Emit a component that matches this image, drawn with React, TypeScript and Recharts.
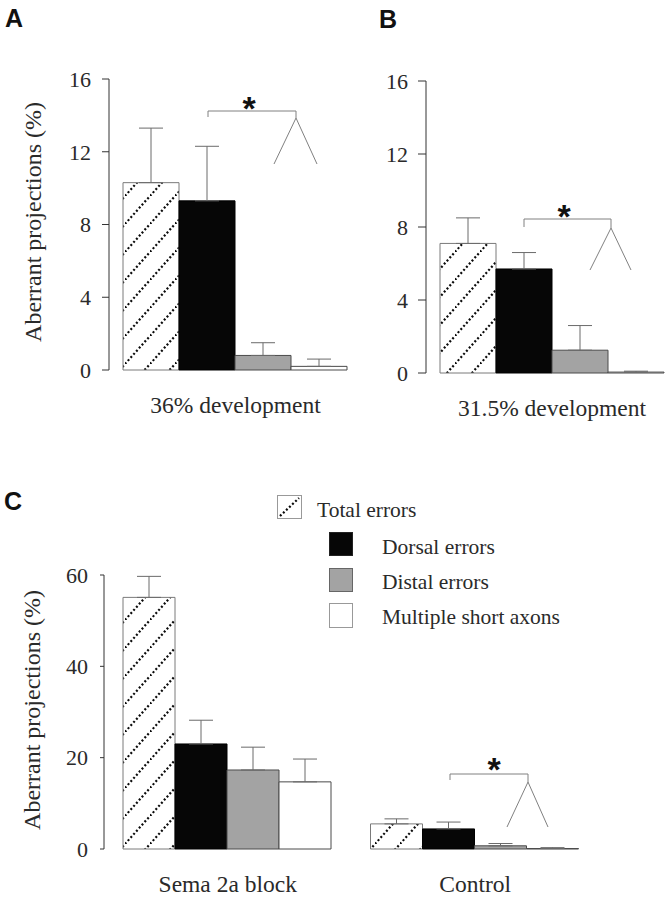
import React from 'react'
import { BarChart, Bar, XAxis, YAxis, ErrorBar } from 'recharts'

const SERIF = '"Liberation Serif", "Times New Roman", serif'
const SANS = '"Liberation Sans", Arial, sans-serif'

// legend / series
const seriesKeys = ['total', 'dorsal', 'distal', 'short']
const seriesNames = ['Total errors', 'Dorsal errors', 'Distal errors', 'Multiple short axons']
const seriesFills = ['url(#hatch)', '#060606', '#a3a3a3', '#ffffff']
const seriesStrokes = ['#7a7a7a', '#000000', '#4a4a4a', '#4a4a4a']

// panel A
const categoriesA = ['36% development']
const totalA = [10.3]
const totalErrA = [3.0]
const dorsalA = [9.3]
const dorsalErrA = [3.0]
const distalA = [0.8]
const distalErrA = [0.7]
const shortA = [0.2]
const shortErrA = [0.4]

// panel B
const categoriesB = ['31.5% development']
const totalB = [7.1]
const totalErrB = [1.4]
const dorsalB = [5.7]
const dorsalErrB = [0.9]
const distalB = [1.25]
const distalErrB = [1.35]
const shortB = [0.05]
const shortErrB = [0.05]

// panel C
const categoriesC = ['Sema 2a block', 'Control']
const totalC = [55.1, 5.5]
const totalErrC = [4.6, 1.1]
const dorsalC = [23.0, 4.4]
const dorsalErrC = [5.2, 1.5]
const distalC = [17.3, 0.7]
const distalErrC = [5.0, 0.5]
const shortC = [14.7, 0.1]
const shortErrC = [5.0, 0.2]

const ticksAB = [0, 4, 8, 12, 16]
const ticksC = [0, 20, 40, 60]

const buildRows = (
  cats: string[],
  total: number[], totalErr: number[],
  dorsal: number[], dorsalErr: number[],
  distal: number[], distalErr: number[],
  short: number[], shortErr: number[]
) =>
  cats.map((name, i) => ({
    name,
    total: total[i],
    totalErr: [0, totalErr[i]],
    dorsal: dorsal[i],
    dorsalErr: [0, dorsalErr[i]],
    distal: distal[i],
    distalErr: [0, distalErr[i]],
    short: short[i],
    shortErr: [0, shortErr[i]],
  }))

const dataA = buildRows(categoriesA, totalA, totalErrA, dorsalA, dorsalErrA, distalA, distalErrA, shortA, shortErrA)
const dataB = buildRows(categoriesB, totalB, totalErrB, dorsalB, dorsalErrB, distalB, distalErrB, shortB, shortErrB)
const dataC = buildRows(categoriesC, totalC, totalErrC, dorsalC, dorsalErrC, distalC, distalErrC, shortC, shortErrC)

interface PanelProps {
  data: Array<Record<string, unknown>>
  left: number
  top: number
  width: number
  height: number
  margin: { top: number; right: number; left: number; bottom: number }
  yWidth: number
  yMax: number
  ticks: number[]
  padLeft: number
  catGap: number
  tickFont: number
  tickSize: number
  tickMargin: number
  catFont: number
  catMargin: number
}

function Panel({
  data, left, top, width, height, margin, yWidth, yMax, ticks,
  padLeft, catGap, tickFont, tickSize, tickMargin, catFont, catMargin,
}: PanelProps) {
  return (
    <div style={{ position: 'absolute', left, top, width, height }}>
      <BarChart
        width={width}
        height={height}
        data={data}
        margin={margin}
        barGap={0}
        barCategoryGap={catGap}
      >
        <XAxis
          dataKey="name"
          axisLine={false}
          tickLine={false}
          tickSize={0}
          tickMargin={catMargin}
          height={40}
          interval={0}
          padding={{ left: padLeft, right: 0 }}
          tick={{ fontSize: catFont, fill: '#2a2a2a', fontFamily: SERIF }}
        />
        <YAxis
          type="number"
          width={yWidth}
          domain={[0, yMax]}
          ticks={ticks}
          interval={0}
          tickSize={tickSize}
          tickMargin={tickMargin}
          axisLine={{ stroke: '#333' }}
          tickLine={{ stroke: '#333' }}
          tick={{ fontSize: tickFont, fill: '#2a2a2a', fontFamily: SERIF }}
        />
        {seriesKeys.map((key, i) => (
          <Bar
            key={key}
            dataKey={key}
            name={seriesNames[i]}
            fill={seriesFills[i]}
            stroke={seriesStrokes[i]}
            strokeWidth={1}
            isAnimationActive={false}
          >
            <ErrorBar
              dataKey={key + 'Err'}
              width={12}
              stroke="#6a6a6a"
              strokeWidth={1}
              direction="y"
              isAnimationActive={false}
            />
          </Bar>
        ))}
      </BarChart>
    </div>
  )
}

export default function App() {
  const textStyle = { fontFamily: SERIF, fill: '#2a2a2a' }
  return (
    <div style={{ position: 'absolute', left: 0, top: 0, width: 666, height: 899, background: '#fff' }}>
      <Panel
        data={dataA}
        left={0}
        top={0}
        width={360}
        height={430}
        margin={{ top: 79, right: 12, left: 0, bottom: 20 }}
        yWidth={109}
        yMax={16}
        ticks={ticksAB}
        padLeft={14}
        catGap={0}
        tickFont={22}
        tickSize={7}
        tickMargin={11}
        catFont={23.5}
        catMargin={26}
      />
      <Panel
        data={dataB}
        left={330}
        top={0}
        width={336}
        height={430}
        margin={{ top: 81, right: 2, left: 0, bottom: 17 }}
        yWidth={96}
        yMax={16}
        ticks={ticksAB}
        padLeft={14}
        catGap={0}
        tickFont={22}
        tickSize={8}
        tickMargin={10}
        catFont={23.5}
        catMargin={26}
      />
      <Panel
        data={dataC}
        left={0}
        top={480}
        width={620}
        height={419}
        margin={{ top: 95, right: 21, left: 0, bottom: 10 }}
        yWidth={104}
        yMax={60}
        ticks={ticksC}
        padLeft={0}
        catGap={19}
        tickFont={22}
        tickSize={4}
        tickMargin={12}
        catFont={23.5}
        catMargin={26}
      />

      {/* overlay: pattern, titles, significance marks, legend */}
      <svg
        width={666}
        height={899}
        style={{ position: 'absolute', left: 0, top: 0, pointerEvents: 'none' }}
      >
        <defs>
          <pattern id="hatch" patternUnits="userSpaceOnUse" width={25} height={28}>
            <rect width={25} height={28} fill="#fff" />
            <line x1={0} y1={28} x2={25} y2={0} stroke="#0a0a0a" strokeWidth={2.2} strokeDasharray="2 2.2" />
          </pattern>
        </defs>

        <text x={5} y={27} style={{ fontFamily: SANS, fontWeight: 700, fontSize: 25, fill: '#111' }}>A</text>
        <text x={379} y={28} style={{ fontFamily: SANS, fontWeight: 700, fontSize: 25, fill: '#111' }}>B</text>
        <text x={4} y={510} style={{ fontFamily: SANS, fontWeight: 700, fontSize: 25, fill: '#111' }}>C</text>

        <text x={33} y={222} transform="rotate(-90 33 222)" textAnchor="middle" dominantBaseline="central" style={{ ...textStyle, fontSize: 24 }}>
          Aberrant projections (%)
        </text>
        <text x={32} y={710} transform="rotate(-90 32 710)" textAnchor="middle" dominantBaseline="central" style={{ ...textStyle, fontSize: 24 }}>
          Aberrant projections (%)
        </text>

        {/* significance brackets */}
        <g stroke="#808080" strokeWidth={1} fill="none">
          <path d="M208,117 L208,111 L296,111 L296,118" />
          <path d="M274,164 L296,118 L317,164" />
          <path d="M524,227 L524,219 L611,219 L611,228" />
          <path d="M590,270 L611,228 L631,270" />
          <path d="M450,780 L450,774 L528,774 L528,782" />
          <path d="M507,827 L528,782 L548,827" />
        </g>
        <text x={249} y={120} textAnchor="middle" style={{ fontFamily: SANS, fontWeight: 700, fontSize: 34, fill: '#111' }}>*</text>
        <text x={564} y={228} textAnchor="middle" style={{ fontFamily: SANS, fontWeight: 700, fontSize: 34, fill: '#111' }}>*</text>
        <text x={494} y={781} textAnchor="middle" style={{ fontFamily: SANS, fontWeight: 700, fontSize: 34, fill: '#111' }}>*</text>

        {/* legend */}
        <rect x={277.5} y={495.5} width={24} height={23} fill="#fff" stroke="#999" />
        <line x1={280} y1={516} x2={299} y2={498} stroke="#0a0a0a" strokeWidth={2.2} strokeDasharray="2 2.2" />
        <text x={317} y={517} style={{ ...textStyle, fontSize: 21.5 }}>{seriesNames[0]}</text>
        <rect x={329.5} y={532.5} width={23} height={23} fill={seriesFills[1]} stroke="#222" />
        <text x={382} y={554} style={{ ...textStyle, fontSize: 21.5 }}>{seriesNames[1]}</text>
        <rect x={329.5} y={568.5} width={23} height={23} fill={seriesFills[2]} stroke="#666" />
        <text x={382} y={589} style={{ ...textStyle, fontSize: 21.5 }}>{seriesNames[2]}</text>
        <rect x={329.5} y={603.5} width={23} height={24} fill="#fff" stroke="#999" />
        <text x={382} y={624} style={{ ...textStyle, fontSize: 21.5 }}>{seriesNames[3]}</text>
      </svg>
    </div>
  )
}
